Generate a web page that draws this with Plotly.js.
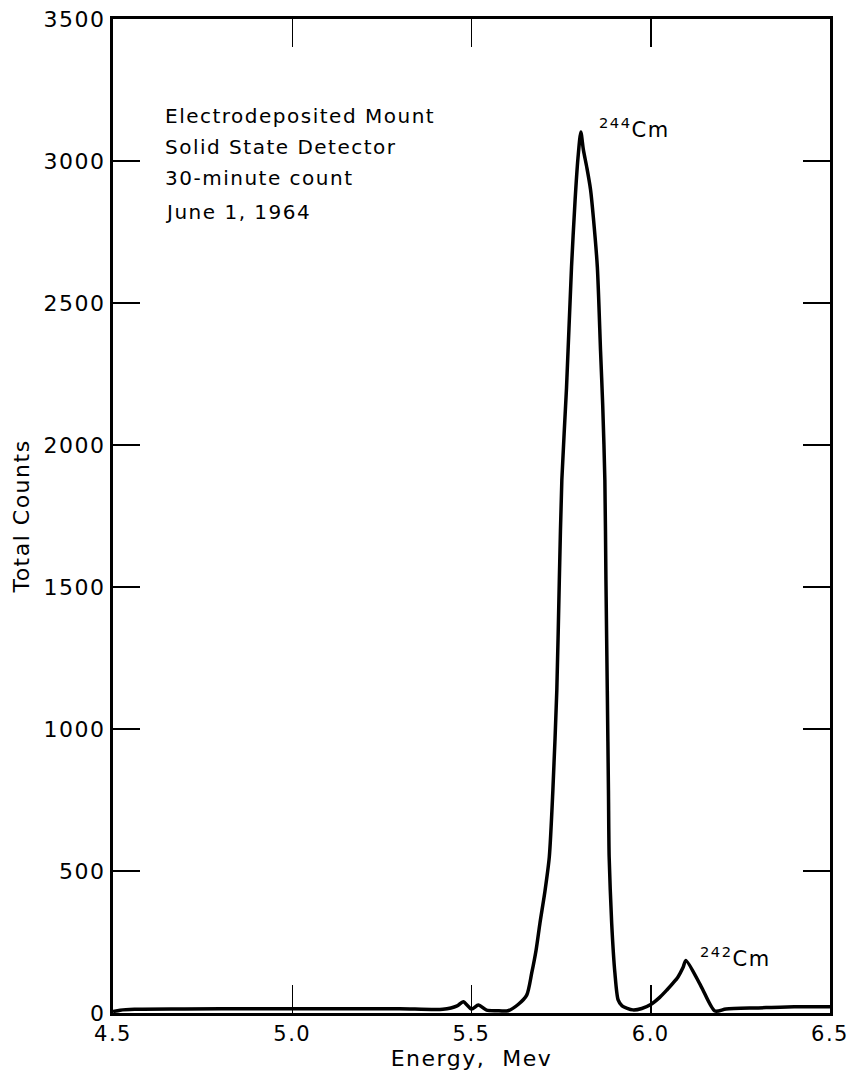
<!DOCTYPE html>
<html>
<head>
<meta charset="utf-8">
<script src="https://cdn.plot.ly/plotly-3.0.1.min.js"></script>
<style>
  html, body { margin: 0; padding: 0; background: #fff; }
  #chart { width: 856px; height: 1082px; }
  .main-svg text { letter-spacing: 1.5px; }
</style>
</head>
<body>
<div id="chart"></div>
<script>
// Energy (MeV) and total counts
const energy = [4.5, 4.52, 4.56, 4.7, 4.9, 5.1, 5.3, 5.42, 5.46, 5.477, 5.50, 5.519, 5.542, 5.57, 5.602, 5.63, 5.654, 5.668, 5.68, 5.691, 5.705, 5.717, 5.727, 5.738, 5.745, 5.752, 5.765, 5.779, 5.789, 5.797, 5.805, 5.812, 5.822, 5.832, 5.840, 5.851, 5.860, 5.866, 5.872, 5.875, 5.879, 5.882, 5.884, 5.891, 5.900, 5.909, 5.92, 5.95, 5.975, 6.0, 6.025, 6.045, 6.062, 6.076, 6.09, 6.098, 6.14, 6.179, 6.21, 6.3, 6.4, 6.5];
const counts = [5, 10, 13, 14, 15, 15, 15, 13, 25, 40, 14, 28, 10, 8, 8, 30, 63, 141, 220, 317, 430, 549, 785, 1137, 1525, 1877, 2200, 2627, 2863, 3010, 3102, 3040, 2975, 2900, 2800, 2627, 2330, 2140, 1877, 1525, 1113, 785, 549, 317, 141, 46, 25, 11, 16, 30, 55, 81, 105, 127, 160, 185, 95, 7, 14, 18, 22, 22];

const xTicks = [4.5, 5.0, 5.5, 6.0, 6.5];
const xTickText = ['4.5', '5.0', '5.5', '6.0', '6.5'];
const yTicks = [0, 500, 1000, 1500, 2000, 2500, 3000, 3500];

const noteLines = ['Electrodeposited Mount', 'Solid State Detector', '30-minute count', 'June 1, 1964'];
const noteY = [3157, 3051, 2940, 2820];
const peakLabels = ['<sup>244</sup>Cm', '<sup>242</sup>Cm'];
const peakX = [5.850, 6.132];
const peakY = [3116, 197];

const font = 'DejaVu Sans, sans-serif';

const annotations = [];
noteLines.forEach((t, i) => annotations.push({
  x: 4.64, y: noteY[i], xref: 'x', yref: 'y', text: t, showarrow: false,
  xanchor: 'left', yanchor: 'middle', align: 'left',
  font: {family: font, size: 20, color: '#000'}
}));
peakLabels.forEach((t, i) => annotations.push({
  x: peakX[i], y: peakY[i], xref: 'x', yref: 'y', text: t, showarrow: false,
  xanchor: 'left', yanchor: 'middle', align: 'left',
  font: {family: font, size: 21, color: '#000'}
}));

const data = [{
  x: energy, y: counts, type: 'scatter', mode: 'lines',
  line: {color: '#000', width: 3.5, shape: 'spline', smoothing: 0.7}, hoverinfo: 'skip'
}];

const layout = {
  width: 856, height: 1082,
  margin: {l: 113, r: 26, t: 19, b: 69},
  paper_bgcolor: '#fff', plot_bgcolor: '#fff',
  showlegend: false,
  font: {family: font, color: '#000'},
  xaxis: {
    range: [4.5, 6.5], tickvals: xTicks, ticktext: xTickText,
    ticks: 'inside', ticklen: 28, tickwidth: 1.5, tickcolor: '#000',
    showline: true, linewidth: 3, linecolor: '#000', mirror: 'ticks',
    showgrid: false, zeroline: false,
    tickfont: {family: font, size: 21, color: '#000'},
    title: {text: 'Energy,  Mev', font: {family: font, size: 22, color: '#000'}, standoff: 4},
    automargin: false
  },
  yaxis: {
    range: [0, 3500], tickvals: yTicks,
    ticks: 'inside', ticklen: 27, tickwidth: 1.5, tickcolor: '#000',
    showline: true, linewidth: 3, linecolor: '#000', mirror: 'ticks',
    showgrid: false, zeroline: false,
    tickfont: {family: font, size: 22, color: '#000'},
    title: {text: 'Total Counts', font: {family: font, size: 22, color: '#000'}, standoff: 14},
    automargin: false
  },
  annotations: annotations
};

Plotly.newPlot('chart', data, layout, {displayModeBar: false, staticPlot: true});
</script>
</body>
</html>
